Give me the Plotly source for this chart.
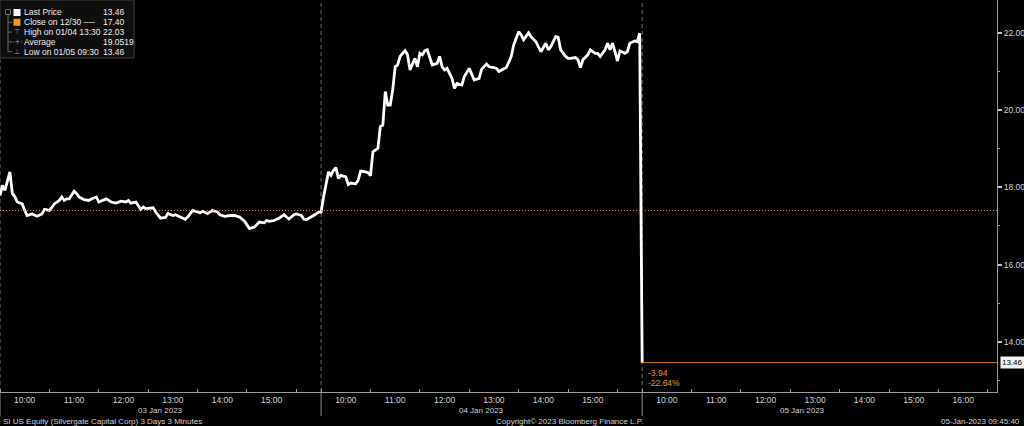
import plotly.graph_objects as go

# ---------------- data ----------------
dates = ["2023-01-03", "2023-01-04", "2023-01-05"]
day_labels = ["03 Jan 2023", "04 Jan 2023", "05 Jan 2023"]

d1_times = ["09:30", "09:33", "09:36", "09:42", "09:45", "09:48", "09:51", "09:57", "10:00", "10:03",
            "10:09", "10:15", "10:21", "10:24", "10:30", "10:33", "10:36", "10:42", "10:45", "10:48",
            "10:51", "10:54", "11:00", "11:03", "11:06", "11:12", "11:18", "11:21", "11:27", "11:30",
            "11:36", "11:39", "11:45", "11:51", "11:57", "12:03", "12:06", "12:09", "12:15", "12:18",
            "12:21", "12:24", "12:27", "12:36", "12:39", "12:45", "12:51", "12:54", "13:00", "13:03",
            "13:06", "13:12", "13:15", "13:18", "13:24", "13:30", "13:33", "13:36", "13:42", "13:45",
            "13:48", "13:54", "13:57", "14:03", "14:09", "14:15", "14:21", "14:27", "14:30", "14:33",
            "14:39", "14:42", "14:45", "14:51", "14:54", "14:57", "15:03", "15:09", "15:15", "15:18",
            "15:21", "15:27", "15:30", "15:36", "15:39", "15:42", "15:48", "15:51", "15:54", "15:57"]
d1_prices = [17.79, 18.05, 17.92, 18.40, 17.84, 17.76, 17.62, 17.57, 17.40, 17.27,
             17.31, 17.25, 17.31, 17.43, 17.40, 17.49, 17.57, 17.66, 17.75, 17.66,
             17.70, 17.70, 17.90, 17.84, 17.75, 17.68, 17.66, 17.70, 17.75, 17.62,
             17.66, 17.70, 17.62, 17.59, 17.64, 17.62, 17.66, 17.59, 17.62, 17.53,
             17.43, 17.49, 17.45, 17.47, 17.36, 17.20, 17.22, 17.32, 17.27, 17.29,
             17.26, 17.20, 17.17, 17.23, 17.40, 17.36, 17.34, 17.38, 17.32, 17.36,
             17.40, 17.36, 17.29, 17.25, 17.27, 17.27, 17.23, 17.12, 17.01, 16.93,
             16.97, 17.03, 17.10, 17.08, 17.14, 17.12, 17.14, 17.20, 17.29, 17.23,
             17.18, 17.29, 17.31, 17.27, 17.18, 17.16, 17.22, 17.27, 17.31, 17.36]

d2_times = ["09:30", "09:33", "09:39", "09:42", "09:45", "09:48", "09:51", "09:54", "10:00", "10:03",
            "10:06", "10:12", "10:15", "10:18", "10:24", "10:27", "10:30", "10:33", "10:39", "10:42",
            "10:45", "10:48", "10:51", "10:54", "10:57", "11:00", "11:03", "11:06", "11:12", "11:15",
            "11:18", "11:21", "11:24", "11:27", "11:30", "11:33", "11:36", "11:39", "11:42", "11:45",
            "11:51", "11:54", "11:57", "12:00", "12:03", "12:09", "12:12", "12:15", "12:21", "12:24",
            "12:30", "12:36", "12:42", "12:45", "12:51", "12:54", "13:00", "13:03", "13:06", "13:12",
            "13:15", "13:18", "13:21", "13:24", "13:30", "13:33", "13:36", "13:42", "13:45", "13:51",
            "13:54", "13:57", "14:03", "14:06", "14:09", "14:15", "14:18", "14:21", "14:27", "14:30",
            "14:33", "14:39", "14:42", "14:45", "14:48", "14:54", "14:57", "15:03", "15:06", "15:09",
            "15:15", "15:18", "15:21", "15:24", "15:27", "15:30", "15:33", "15:39", "15:42", "15:45",
            "15:51", "15:54", "15:57"]
d2_prices = [17.36, 17.75, 18.40, 18.31, 18.44, 18.51, 18.23, 18.31, 18.27, 18.07,
             18.11, 18.09, 18.18, 18.42, 18.40, 18.38, 18.30, 18.92, 19.01, 19.57,
             19.61, 20.48, 20.13, 20.13, 20.52, 21.12, 21.17, 21.39, 21.54, 21.43,
             21.04, 21.21, 21.34, 21.12, 21.47, 21.43, 21.54, 21.56, 21.34, 21.17,
             21.21, 21.39, 21.12, 21.04, 21.08, 20.82, 20.56, 20.69, 20.65, 20.87,
             21.08, 20.78, 20.82, 21.06, 21.19, 21.12, 21.10, 21.08, 21.00, 21.06,
             21.10, 21.24, 21.39, 21.69, 22.03, 21.95, 21.82, 22.00, 21.90, 21.77,
             21.64, 21.51, 21.73, 21.56, 21.64, 21.90, 21.88, 21.56, 21.39, 21.34,
             21.34, 21.36, 21.30, 21.10, 21.30, 21.43, 21.56, 21.47, 21.47, 21.39,
             21.56, 21.73, 21.56, 21.73, 21.51, 21.27, 21.53, 21.47, 21.51, 21.73,
             21.79, 21.77, 21.99]

d3_times = ["09:30"]
d3_prices = [13.46]

prev_close = 17.40
high_text, high_value = "High on 01/04 13:30", "22.03"
avg_text, avg_value = "Average", "19.0519"
low_text, low_value = "Low on 01/05 09:30", "13.46"
close_text = "Close on 12/30 ----"
last_text = "Last Price"

hour_labels = [["10:00", "11:00", "12:00", "13:00", "14:00", "15:00"],
               ["10:00", "11:00", "12:00", "13:00", "14:00", "15:00"],
               ["10:00", "11:00", "12:00", "13:00", "14:00", "15:00", "16:00"]]
half_hours = [["09:30", "10:30", "11:30", "12:30", "13:30", "14:30", "15:30"],
              ["09:30", "10:30", "11:30", "12:30", "13:30", "14:30", "15:30"],
              ["09:30", "10:30", "11:30", "12:30", "13:30", "14:30", "15:30", "16:30"]]
day_mid = "12:45"
y_ticks = [14, 16, 18, 20, 22]
x_range = ["2023-01-03 09:30", "2023-01-05 16:41"]
y_range = [12.70, 22.85]

footer_left = "SI US Equity (Silvergate Capital Corp) 3 Days 3 Minutes"
footer_mid = "Copyright\u00a9 2023 Bloomberg Finance L.P."
footer_right = "05-Jan-2023 09:45:40"

# ---------------- build ----------------
x_all, y_all = [], []
for d, ts, ps in zip(dates, [d1_times, d2_times, d3_times], [d1_prices, d2_prices, d3_prices]):
    x_all += [f"{d} {t}" for t in ts]
    y_all += ps

last_price = y_all[-1]
chg = last_price - prev_close
pct = chg / prev_close * 100

W, H = 1024, 426
ML, MR, MT, MB = 0, 27, 0, 34
PW, PH = W - ML - MR, H - MT - MB


def px(x):
    return x / PW


def py(y):
    return 1 - y / PH


FONT = "Liberation Sans"
GREY = "#d2d2d2"
ORANGE = "#f39423"

fig = go.Figure()
fig.add_trace(go.Scatter(x=x_all, y=y_all, mode="lines",
                         line=dict(color="#ffffff", width=2.8), hoverinfo="skip"))

shapes = []
# day separators
for d in dates:
    shapes.append(dict(type="line", xref="x", yref="paper", x0=f"{d} 09:30", x1=f"{d} 09:30",
                       y0=0, y1=1, line=dict(color="#707070", width=1, dash="4px,3px"), layer="below"))
    shapes.append(dict(type="line", xref="x", yref="paper", x0=f"{d} 09:30", x1=f"{d} 09:30",
                       y0=py(392), y1=py(416), line=dict(color="#909090", width=1), layer="below"))
# previous close dotted
shapes.append(dict(type="line", xref="paper", yref="y", x0=0, x1=1, y0=prev_close, y1=prev_close,
                   line=dict(color="#d0822a", width=1, dash="1px,2px")))
# last price solid line on last day
shapes.append(dict(type="line", xref="x", yref="y", x0=x_all[-1], x1=x_range[1],
                   y0=last_price, y1=last_price, line=dict(color="#d97a26", width=1)))

# legend box
shapes.append(dict(type="rect", xref="paper", yref="paper", x0=px(0), x1=px(134), y0=py(0), y1=py(58),
                   fillcolor="#0e0e0e", line=dict(color="#3c3c3c", width=1)))
rows = [12.5 + 9.8 * i for i in range(5)]
# tree line
shapes.append(dict(type="line", xref="paper", yref="paper", x0=px(8), x1=px(8), y0=py(14), y1=py(rows[4]),
                   line=dict(color="#6a6a6a", width=1)))
for r in rows[1:]:
    shapes.append(dict(type="line", xref="paper", yref="paper", x0=px(8), x1=px(12), y0=py(r), y1=py(r),
                       line=dict(color="#6a6a6a", width=1)))
shapes.append(dict(type="rect", xref="paper", yref="paper", x0=px(5.5), x1=px(10.5), y0=py(9.5), y1=py(14.5),
                   fillcolor="#0e0e0e", line=dict(color="#6a6a6a", width=1)))
# colour squares
for r, c in [(rows[0], "#ffffff"), (rows[1], ORANGE)]:
    shapes.append(dict(type="rect", xref="paper", yref="paper", x0=px(13.5), x1=px(20.5),
                       y0=py(r - 3.5), y1=py(r + 3.5), fillcolor=c, line=dict(width=0)))

annotations = []
leg_rows = [(last_text, f"{last_price:.2f}"), (close_text, f"{prev_close:.2f}"),
            (high_text, high_value), (avg_text, avg_value), (low_text, low_value)]
for r, (lab, val) in zip(rows, leg_rows):
    annotations.append(dict(xref="paper", yref="paper", x=px(22), y=py(r), text=lab, showarrow=False,
                            xanchor="left", yanchor="middle", font=dict(family=FONT, size=8.5, color="#ececec")))
    annotations.append(dict(xref="paper", yref="paper", x=px(101), y=py(r), text=val, showarrow=False,
                            xanchor="left", yanchor="middle", font=dict(family=FONT, size=8.5, color="#ececec")))
for r, sym in zip(rows[2:], ["\u22a4", "-+-", "\u22a5"]):
    annotations.append(dict(xref="paper", yref="paper", x=px(17), y=py(r), text=sym, showarrow=False,
                            xanchor="center", yanchor="middle", font=dict(family="DejaVu Sans", size=7, color="#9a9a9a")))

# change annotations
annotations.append(dict(xref="x", yref="y", x=x_all[-1], y=last_price, text=f"{chg:.2f}", showarrow=False,
                        xanchor="left", yanchor="middle", xshift=4, yshift=-10,
                        font=dict(family=FONT, size=8.5, color=ORANGE)))
annotations.append(dict(xref="x", yref="y", x=x_all[-1], y=last_price, text=f"{pct:.2f}%", showarrow=False,
                        xanchor="left", yanchor="middle", xshift=4, yshift=-20,
                        font=dict(family=FONT, size=8.5, color=ORANGE)))
# last price tag
annotations.append(dict(xref="paper", yref="y", x=1, y=last_price, text=f"{last_price:.2f}", showarrow=False,
                        xanchor="left", yanchor="middle", xshift=3, bgcolor="#f2f2f2", borderpad=1,
                        font=dict(family=FONT, size=8, color="#000000")))
# day labels
for d, lab in zip(dates, day_labels):
    annotations.append(dict(xref="x", yref="paper", x=f"{d} {day_mid}", y=py(410), text=lab, showarrow=False,
                            xanchor="center", yanchor="middle", font=dict(family=FONT, size=8, color=GREY)))
# footer
annotations.append(dict(xref="paper", yref="paper", x=px(1), y=py(421), text=footer_left, showarrow=False,
                        xanchor="left", yanchor="middle", font=dict(family=FONT, size=8, color=GREY)))
annotations.append(dict(xref="paper", yref="paper", x=px(645), y=py(421), text=footer_mid, showarrow=False,
                        xanchor="right", yanchor="middle", font=dict(family=FONT, size=8, color=GREY)))
annotations.append(dict(xref="paper", yref="paper", x=px(1022), y=py(421), text=footer_right, showarrow=False,
                        xanchor="right", yanchor="middle", font=dict(family=FONT, size=8, color=GREY)))

tickvals, ticktext = [], []
for d, hs in zip(dates, hour_labels):
    tickvals += [f"{d} {h}" for h in hs]
    ticktext += hs
minor_vals = []
for d, hs in zip(dates, half_hours):
    minor_vals += [f"{d} {h}" for h in hs]

fig.update_layout(
    width=W, height=H,
    margin=dict(l=ML, r=MR, t=MT, b=MB, pad=0),
    paper_bgcolor="#000000", plot_bgcolor="#000000",
    showlegend=False,
    shapes=shapes, annotations=annotations,
    xaxis=dict(type="date", range=x_range,
               rangebreaks=[dict(values=[f"{dates[0]} 16:00", f"{dates[1]} 16:00"], dvalue=17.5 * 3600 * 1000)],
               tickmode="array", tickvals=tickvals, ticktext=ticktext, ticks="",
               showgrid=False, zeroline=False, showline=True, linecolor="#9a9a9a", linewidth=1,
               tickfont=dict(family=FONT, size=8.5, color=GREY),
               minor=dict(tickmode="array", tickvals=minor_vals, ticks="inside", ticklen=3,
                          tickcolor="#9a9a9a", showgrid=False)),
    yaxis=dict(side="right", range=y_range, tickmode="array", tickvals=y_ticks,
               ticktext=[f"{v:.2f}" for v in y_ticks], ticks="outside", ticklen=4, tickwidth=2,
               tickcolor="#c0c0c0", showgrid=False, zeroline=False, showline=True,
               linecolor="#9a9a9a", linewidth=1,
               tickfont=dict(family=FONT, size=8.5, color=GREY),
               minor=dict(dtick=1, tick0=13, ticks="outside", ticklen=2, tickwidth=1,
                          tickcolor="#9a9a9a", showgrid=False)),
)

fig.write_html("out.html", config={"displayModeBar": False},
               post_script="document.body.style.margin='0';document.body.style.overflow='hidden';")
